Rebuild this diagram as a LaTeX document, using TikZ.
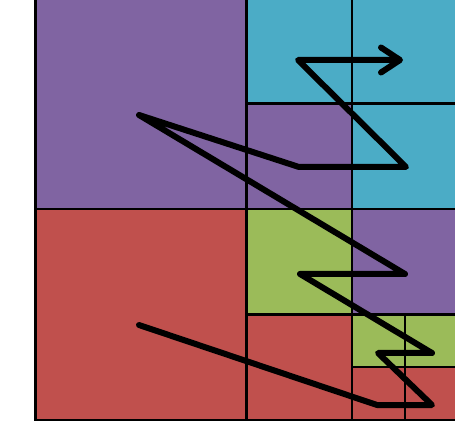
\documentclass[tikz,border=0pt]{standalone}
\usetikzlibrary{arrows.meta}
\definecolor{qpurple}{HTML}{8064A2}
\definecolor{qred}{HTML}{C0504D}
\definecolor{qgreen}{HTML}{9BBB59}
\definecolor{qcyan}{HTML}{4BACC6}
\tikzset{
  cell/.style={draw=black, line width=2.2pt},
  zpath/.style={draw=black, line width=6pt, line cap=round, line join=round},
}
\begin{document}
\begin{tikzpicture}[x=1pt,y=-1pt]
\useasboundingbox (0,0) rectangle (455,427);
\clip (0,0) rectangle (455,427);
\fill[white] (0,0) rectangle (455,427);
% large quadrants
\filldraw[cell, fill=qpurple] (35.5,-2) rectangle (246.5,209);
\filldraw[cell, fill=qred] (35.5,209) rectangle (246.5,420);
% top-right quadrant
\filldraw[cell, fill=qcyan] (246.5,-2) rectangle (352,103.5);
\filldraw[cell, fill=qcyan] (352,-2) rectangle (457.5,103.5);
\filldraw[cell, fill=qpurple] (246.5,103.5) rectangle (352,209);
\filldraw[cell, fill=qcyan] (352,103.5) rectangle (457.5,209);
% bottom-right quadrant
\filldraw[cell, fill=qgreen] (246.5,209) rectangle (352,314.5);
\filldraw[cell, fill=qpurple] (352,209) rectangle (457.5,314.5);
\filldraw[cell, fill=qred] (246.5,314.5) rectangle (352,420);
% smallest cells
\filldraw[cell, fill=qgreen] (352,314.5) rectangle (404.75,367.25);
\filldraw[cell, fill=qgreen] (404.75,314.5) rectangle (457.5,367.25);
\filldraw[cell, fill=qred] (352,367.25) rectangle (404.75,420);
\filldraw[cell, fill=qred] (404.75,367.25) rectangle (457.5,420);
% path points
\coordinate (p1) at (139,325);
\coordinate (p2) at (377,405);
\coordinate (p3) at (432,405);
\coordinate (p4) at (378,353);
\coordinate (p5) at (432,353);
\coordinate (p6) at (300,274);
\coordinate (p7) at (405,274);
\coordinate (p8) at (139,115);
\coordinate (p9) at (299,167);
\coordinate (p10) at (406,167);
\coordinate (p11) at (298,60);
\coordinate (p12) at (403,60);
\draw[zpath, -{Straight Barb[length=19pt, width=25pt, round]}]
  (p1) -- (p2) -- (p3) -- (p4) -- (p5) -- (p6) -- (p7) -- (p8)
  -- (p9) -- (p10) -- (p11) -- (p12);
\end{tikzpicture}
\end{document}
